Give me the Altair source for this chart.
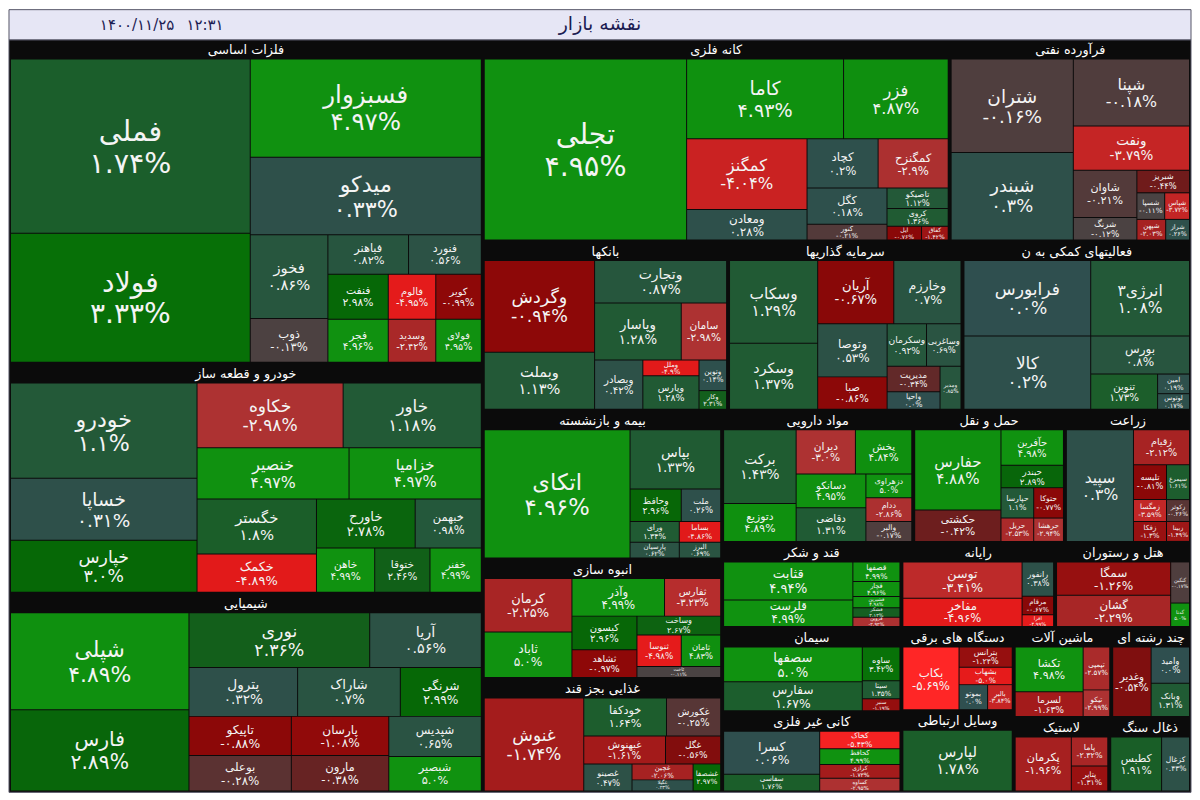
import math
import altair as alt
import pandas as pd

# ---------------- data ----------------
TITLE = "نقشه بازار"
DATE_TEXT = "۱۴۰۰/۱۱/۲۵"
TIME_TEXT = "۱۲:۳۱"

SECTOR_NAMES = [
    "فلزات اساسی", "خودرو  و قطعه ساز", "شیمیایی", "کانه فلزی", "فرآورده نفتی",
    "بانکها", "سرمایه گذاریها", "فعالیتهای کمکی به ن", "بیمه و بازنشسته", "انبوه سازی",
    "غذایی بجز قند", "مواد دارویی", "حمل و نقل", "زراعت", "قند و شکر",
    "سیمان", "کانی غیر فلزی", "رایانه", "هتل و رستوران", "دستگاه های برقی",
    "وسایل ارتباطی", "ماشین آلات", "چند رشته ای", "لاستیک", "ذغال سنگ",
]
SECTOR_WEIGHT = [
    159211, 113035, 97643, 97644, 50470,
    43077, 41174, 40136, 36936, 29646,
    28188, 26190, 20790, 17280, 15834,
    15652, 14924, 13572, 12006, 9690,
    9462, 9108, 7452, 7372, 6308,
]
# nesting of the sectors: "h" = side by side, "v" = stacked
TOP_SPLIT = ("h", [("v", [0, 1, 2]),
                   ("v", [("h", [3, 4]), ("h", [5, 6, 7]),
                          ("h", [("v", [8, 9, 10]),
                                 ("v", [("h", [11, 12, 13]),
                                        ("h", [("v", [14, 15, 16]),
                                               ("v", [("h", [17, 18]),
                                                      ("h", [("v", [19, 20]),
                                                             ("v", [("h", [21, 22]), ("h", [23, 24])])])])])])])])])

STOCK_NAMES = [
    ["فملی", "فولاد", "فسبزوار", "میدکو", "فخوز", "ذوب", "فباهنر", "فنورد", "فنفت", "فالوم", "کویر", "فجر", "وسدید", "فولای"],
    ["خودرو", "خساپا", "خپارس", "خکاوه", "خاور", "خنصیر", "خزامیا", "خگستر", "خکمک", "خاورح", "خبهمن", "خاهن", "ختوقا", "خفنر"],
    ["شپلی", "فارس", "نوری", "آریا", "پترول", "شاراک", "شرنگی", "تاپیکو", "بوعلی", "پارسان", "مارون", "شپدیس", "شبصیر"],
    ["تجلی", "کاما", "فزر", "کمگنز", "ومعادن", "کچاد", "کمگنزح", "کگل", "کنور", "تاصیکو", "کروی", "ایل", "کفاق"],
    ["شتران", "شبندر", "شپنا", "ونفت", "شاوان", "شرنگ", "شبریز", "شسپا", "شپاس", "شپهن", "شراز"],
    ["وگردش", "وبملت", "وتجارت", "وپاسار", "سامان", "وبصادر", "وملل", "وپارس", "ونوین", "وکار"],
    ["وسکاب", "وسکرد", "آریان", "وخارزم", "وتوصا", "صبا", "وسکرمان", "وساغربی", "مدیریت", "واحیا", "ومدیر"],
    ["فرابورس", "کالا", "انرژی۳", "بورس", "تنوین", "امین", "لوتوس"],
    ["اتکای", "بپاس", "وحافظ", "ملت", "ورای", "پارسیان", "بساما", "البرز"],
    ["کرمان", "ثاباد", "وآذر", "ثفارس", "کیسون", "ثشاهد", "وساخت", "ثنوسا", "ثامان", "ثاخت"],
    ["غنوش", "خودکفا", "غکورش", "غبهنوش", "غگل", "غصینو", "غچین", "غگیلا", "غشصفا"],
    ["برکت", "دتوزیع", "دیران", "پخش", "دسانکو", "دقاضی", "دزهراوی", "ددام", "والبر"],
    ["حفارس", "حکشتی", "حآفرین", "حبندر", "حپارسا", "حریل", "حتوکا", "حرهشا"],
    ["سپید", "زقیام", "تلیسه", "زمگسا", "زفکا", "سیمرغ", "زکوثر", "زبینا"],
    ["قثابت", "قلرست", "قصفها", "قچار", "قشیرین", "قشکر", "قزوین"],
    ["سصفها", "سفارس", "ساوه", "سیتا", "سنیر"],
    ["کسرا", "سفاسی", "کخاک", "کحافظ", "کرازی", "کساوه"],
    ["توسن", "مفاخر", "رانفور", "مرقام", "افرا"],
    ["سمگا", "گشان", "گنگین", "گدنا"],
    ["بکاب", "بترانس", "بشهاب", "بموتو", "بالبر"],
    ["لپارس"],
    ["تکشا", "لسرما", "تپمپی", "تیکو"],
    ["وغدیر", "وامید", "وبانک"],
    ["پکرمان", "پاما", "پتایر"],
    ["کطبس", "کزغال"],
]
STOCK_CHANGE = [
    [1.74, 3.33, 4.97, 0.33, 0.86, -0.13, 0.82, 0.56, 2.98, -4.95, -0.99, 4.96, -2.42, 4.95],
    [1.1, 0.31, 3.0, -2.98, 1.18, 4.97, 4.97, 1.8, -4.89, 2.78, 0.98, 4.99, 2.46, 4.99],
    [4.89, 2.89, 2.36, 0.56, 0.32, 0.7, 2.99, -0.88, -0.28, -1.08, -0.38, 0.65, 5.0],
    [4.95, 4.93, 4.87, -4.04, 0.28, 0.2, -2.9, 0.18, -0.21, 1.12, 1.36, -0.76, -1.42],
    [-0.16, 0.3, -0.18, -3.79, -0.21, -0.12, -0.44, -0.11, -3.72, -2.03, 0.26],
    [-0.94, 1.13, 0.87, 1.28, -2.98, 0.42, -4.9, 1.28, 0.14, 2.31],
    [1.29, 1.37, -0.67, 0.7, 0.53, -0.86, 0.92, 0.69, -0.34, 0.0, 0.85],
    [0.0, 0.2, 1.08, 0.8, 1.73, 0.19, 0.17],
    [4.96, 1.33, 2.96, 0.26, 1.34, 0.62, -4.86, 0.69],
    [-2.25, 5.0, 4.99, -3.23, 2.96, -0.97, 2.67, -4.98, 4.83, -0.11],
    [-1.74, 1.64, -0.25, -1.61, -0.56, 0.47, -2.06, 0.23, 2.97],
    [1.43, 4.89, -3.0, 4.84, 4.95, 1.31, 5.0, -2.86, -0.17],
    [4.88, -0.42, 4.98, 2.89, 1.1, -2.53, -0.77, -2.94],
    [0.3, -2.12, -0.81, -3.59, -1.3, 1.61, -0.26, -1.49],
    [4.94, 4.99, 4.99, 4.96, 4.98, 2.12, -2.92],
    [5.0, 1.67, 3.42, 1.35, -1.19],
    [0.06, 1.76, -5.43, 4.99, -1.73, -2.95],
    [-3.41, -4.96, 0.38, -0.67, -4.99],
    [-1.26, -2.29, -0.17, 5.0],
    [-5.69, -1.24, -5.0, 0.0, -3.84],
    [1.78],
    [4.98, -1.63, -2.57, -2.99],
    [-0.54, 0.0, 1.31],
    [-1.96, -2.32, -1.31],
    [1.91, 0.43],
]
STOCK_WEIGHT = [
    [43076, 31944, 23400, 18486, 6708, 3510, 3280, 2960, 2806, 2208, 2116, 2684, 2112, 2024],
    [18333, 11907, 10017, 9768, 9240, 8008, 6968, 6776, 4719, 5000, 3350, 2655, 2520, 2340],
    [17919, 15023, 10248, 6328, 5500, 5200, 4100, 4160, 3744, 3960, 3564, 3854, 3290],
    [37720, 12879, 8586, 8784, 3782, 3600, 3550, 2997, 1296, 1302, 1116, 490, 378],
    [11685, 10947, 7956, 5265, 3072, 1472, 1219, 756, 675, 609, 504],
    [10416, 6496, 5762, 5104, 2668, 2450, 912, 1938, 868, 532],
    [7476, 5963, 4928, 4352, 3780, 2310, 1720, 1505, 1378, 954, 924],
    [9779, 9525, 7623, 3861, 2412, 640, 512],
    [19240, 5520, 1716, 1320, 1050, 800, 882, 672],
    [4806, 4094, 3572, 2166, 2244, 1848, 1615, 1440, 1280, 935],
    [9393, 3192, 2090, 2324, 1568, 1323, 992, 682, 756],
    [5402, 2774, 2640, 2508, 2380, 2380, 1104, 1104, 920],
    [6873, 2697, 2205, 1386, 990, 759, 900, 690],
    [7504, 1960, 1155, 726, 660, 805, 506, 460],
    [5240, 3668, 987, 752, 564, 470, 470],
    [4900, 4060, 1292, 684, 456],
    [4268, 1649, 1458, 1296, 1134, 1053],
    [4477, 3509, 1120, 608, 384],
    [3910, 3680, 798, 456],
    [3705, 1134, 972, 754, 650],
    [6660],
    [3243, 1794, 1215, 756],
    [2774, 1444, 1330],
    [3078, 1073, 925],
    [2754, 1512],
]
SECTOR_SPLIT = [
    ("h", [("v", [0, 1]), ("v", [2, 3, ("h", [("v", [4, 5]), ("v", [("h", [6, 7]), ("h", [8, 9, 10]), ("h", [11, 12, 13])])])])]),
    ("h", [("v", [0, 1, 2]), ("v", [("h", [3, 4]), ("h", [5, 6]), ("h", [("v", [7, 8]), ("v", [("h", [9, 10]), ("h", [11, 12, 13])])])])]),
    ("h", [("v", [0, 1]), ("v", [("h", [2, 3]), ("h", [4, 5, 6]), ("h", [("v", [7, 8]), ("v", [9, 10]), ("v", [11, 12])])])]),
    ("h", [0, ("v", [("h", [1, 2]), ("h", [("v", [3, 4]), ("v", [("h", [5, 6]), ("h", [("v", [7, 8]), ("v", [9, 10, ("h", [11, 12])])])])])])]),
    ("h", [("v", [0, 1]), ("v", [2, 3, ("h", [("v", [4, 5]), ("v", [6, ("h", [7, 8]), ("h", [9, 10])])])])]),
    ("h", [("v", [0, 1]), ("v", [2, ("h", [3, 4]), ("h", [5, ("v", [6, 7]), ("v", [8, 9])])])]),
    ("h", [("v", [0, 1]), ("v", [("h", [2, 3]), ("h", [("v", [4, 5]), ("v", [("h", [6, 7]), ("h", [("v", [8, 9]), 10])])])])]),
    ("h", [("v", [0, 1]), ("v", [2, 3, ("h", [4, ("v", [5, 6])])])]),
    ("h", [0, ("v", [1, ("h", [2, 3]), ("h", [("v", [4, 5]), ("v", [6, 7])])])]),
    ("h", [("v", [0, 1]), ("v", [("h", [2, 3]), ("h", [("v", [4, 5]), ("v", [6, ("h", [7, 8]), 9])])])]),
    ("h", [0, ("v", [("h", [1, 2]), ("h", [3, 4]), ("h", [5, ("v", [6, 7]), 8])])]),
    ("h", [("v", [0, 1]), ("v", [("h", [2, 3]), ("h", [("v", [4, 5]), ("v", [6, 7, 8])])])]),
    ("h", [("v", [0, 1]), ("v", [2, 3, ("h", [("v", [4, 5]), ("v", [6, 7])])])]),
    ("h", [0, ("v", [1, ("h", [("v", [2, 3, 4]), ("v", [5, 6, 7])])])]),
    ("h", [("v", [0, 1]), ("v", [2, 3, 4, 5, 6])]),
    ("h", [("v", [0, 1]), ("v", [2, 3, 4])]),
    ("h", [("v", [0, 1]), ("v", [2, 3, 4, 5])]),
    ("h", [("v", [0, 1]), ("v", [2, 3, 4])]),
    ("h", [("v", [0, 1]), ("v", [2, 3])]),
    ("h", [0, ("v", [1, 2, ("h", [3, 4])])]),
    ("h", [0]),
    ("h", [("v", [0, 1]), ("v", [2, 3])]),
    ("h", [0, ("v", [1, 2])]),
    ("h", [0, ("v", [1, 2])]),
    ("h", [0, 1]),
]

COLOR_DOMAIN = [-5.7, -4.9, -4.0, -3.5, -3.0, -2.3, -1.6, -1.0, -0.6, -0.4, -0.25, -0.08, 0.0,
                0.5, 1.0, 1.7, 2.4, 3.0, 3.5, 4.5, 5.0]
COLOR_RANGE = ["#ff2626", "#e21a1a", "#c92222", "#c02828", "#ad3232", "#a82626", "#a31a1a", "#8e0808",
               "#880808", "#6a2020", "#573636", "#474646", "#2f4f4f",
               "#2d5147", "#24583a", "#1c5e2c", "#125f1a", "#066806", "#087408", "#0c880c", "#109210"]

# ---------------- layout (slice/dice from the weights) ----------------
MAP_W, MAP_H = 1200, 800
HEAD_H = 31
SECTOR_HEAD = 19.5
CHART_W, CHART_H = 1184, 784
FONT_K = 0.985
FA = str.maketrans("0123456789", "۰۱۲۳۴۵۶۷۸۹")


def node_weight(node, w):
    if isinstance(node, int):
        return w[node]
    return sum(node_weight(k, w) for k in node[1])


def place(node, w, x0, y0, x1, y1, out):
    if isinstance(node, int):
        out[node] = (x0, y0, x1, y1)
        return
    d, kids = node
    tot = sum(node_weight(k, w) for k in kids)
    pos = x0 if d == "h" else y0
    for k in kids:
        f = node_weight(k, w) / tot
        if d == "h":
            nxt = pos + (x1 - x0) * f
            place(k, w, pos, y0, nxt, y1, out)
        else:
            nxt = pos + (y1 - y0) * f
            place(k, w, x0, pos, x1, nxt, out)
        pos = nxt


def pct_text(v):
    return (str(v) + "%").translate(FA)


sector_boxes = {}
place(TOP_SPLIT, SECTOR_WEIGHT, 0, HEAD_H, MAP_W, MAP_H, sector_boxes)

tile_rows, label_rows, head_rows = [], [], []
for s, name in enumerate(SECTOR_NAMES):
    bx0, by0, bx1, by1 = sector_boxes[s]
    head_rows.append({"x": (bx0 + bx1) / 2, "y": by0 + 10.5, "label": name})
    boxes = {}
    place(SECTOR_SPLIT[s], STOCK_WEIGHT[s], bx0 + 1.5, by0 + SECTOR_HEAD, bx1 - 1.5, by1 - 1.5, boxes)
    for i, stock in enumerate(STOCK_NAMES[s]):
        x0, y0, x1, y1 = boxes[i]
        chg = STOCK_CHANGE[s][i]
        tile_rows.append({"x0": x0 + 0.5, "x1": x1 - 0.5, "y0": y0 + 0.5, "y1": y1 - 0.5, "chg": chg})
        w, h = x1 - x0, y1 - y0
        fs = min(29, 3.5 + 0.14 * math.sqrt(w * h), h / 2.3, w / 3.7, w / (0.5 * len(stock) + 0.6))
        fs = max(5.0, fs)
        cx, cy = (x0 + x1) / 2, (y0 + y1) / 2
        label_rows.append({"x": cx, "y": cy - 0.5 * fs, "label": stock, "fs": fs * FONT_K})
        label_rows.append({"x": cx, "y": cy + 0.62 * fs, "label": pct_text(chg), "fs": fs * FONT_K})

tiles_df = pd.DataFrame(tile_rows)
labels_df = pd.DataFrame(label_rows)
heads_df = pd.DataFrame(head_rows)
frame_df = pd.DataFrame([
    {"x0": 0, "x1": MAP_W, "y0": 0, "y1": HEAD_H, "part": "head"},
    {"x0": 0, "x1": MAP_W, "y0": HEAD_H, "y1": MAP_H, "part": "map"},
])
title_df = pd.DataFrame([
    {"x": MAP_W / 2, "y": 15, "label": TITLE, "fs": 19},
    {"x": 130, "y": 15.5, "label": DATE_TEXT, "fs": 15},
    {"x": 199, "y": 15.5, "label": TIME_TEXT, "fs": 15},
])

xs = alt.Scale(domain=[0, MAP_W], nice=False, zero=False)
ys = alt.Scale(domain=[0, MAP_H], nice=False, zero=False, reverse=True)

frame = alt.Chart(frame_df).mark_rect(stroke="#555566", strokeWidth=1).encode(
    x=alt.X("x0:Q", scale=xs, axis=None), x2="x1:Q",
    y=alt.Y("y0:Q", scale=ys, axis=None), y2="y1:Q",
    fill=alt.Fill("part:N", scale=alt.Scale(domain=["head", "map"], range=["#e6e6f5", "#0b0b0b"]), legend=None),
)

tiles = alt.Chart(tiles_df).mark_rect().encode(
    x=alt.X("x0:Q", scale=xs, axis=None), x2="x1:Q",
    y=alt.Y("y0:Q", scale=ys, axis=None), y2="y1:Q",
    color=alt.Color("chg:Q", scale=alt.Scale(domain=COLOR_DOMAIN, range=COLOR_RANGE, interpolate="rgb", clamp=True),
                    legend=None),
)

heads = alt.Chart(heads_df).mark_text(font="DejaVu Sans", fontSize=13 * FONT_K, color="#ffffff",
                                      baseline="middle", align="center").encode(
    x=alt.X("x:Q", scale=xs, axis=None), y=alt.Y("y:Q", scale=ys, axis=None), text="label:N")

labels = alt.Chart(labels_df).mark_text(font="DejaVu Sans", color="#f4f4f4",
                                        baseline="middle", align="center").encode(
    x=alt.X("x:Q", scale=xs, axis=None), y=alt.Y("y:Q", scale=ys, axis=None),
    text="label:N", size=alt.Size("fs:Q", scale=None))

titles = alt.Chart(title_df).mark_text(font="DejaVu Sans", color="#1c1c52",
                                       baseline="middle", align="center").encode(
    x=alt.X("x:Q", scale=xs, axis=None), y=alt.Y("y:Q", scale=ys, axis=None),
    text="label:N", size=alt.Size("fs:Q", scale=None))

chart = alt.layer(frame, tiles, heads, labels, titles).properties(
    width=CHART_W, height=CHART_H, padding=0
).configure_view(strokeWidth=0)

chart.save("out.html", embed_options={"renderer": "svg", "actions": False})
